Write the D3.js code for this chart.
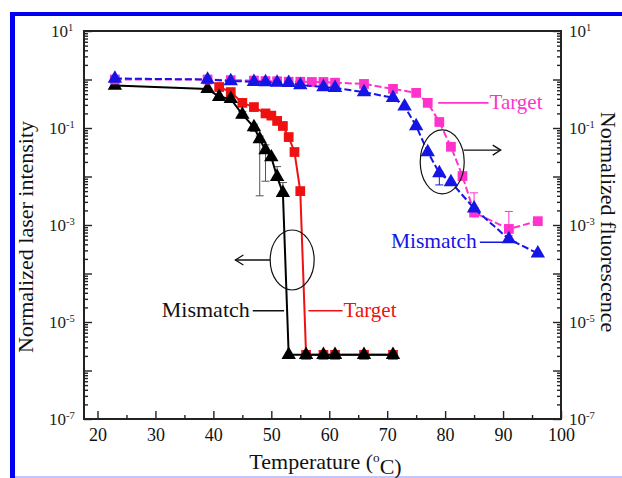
<!DOCTYPE html>
<html>
<head>
<meta charset="utf-8">
<script src="https://cdn.jsdelivr.net/npm/d3@7"></script>
<style>
  body { margin: 0; background: #fff; }
</style>
</head>
<body>
<div id="vis-holder"></div>
<script>
// ---- data ----
// laser intensity, mismatch (black triangles, left axis)
const laserMisTemp = [23, 39, 41, 43, 45, 47, 48, 49, 50, 51, 52, 53, 56, 59, 61, 66, 71];
const laserMisVal = [0.75, 0.64, 0.44, 0.40, 0.19, 0.105, 0.059, 0.035, 0.025, 0.0098, 0.0046,
  2.1e-6, 2.1e-6, 2.1e-6, 2.1e-6, 2.1e-6, 2.1e-6];
// laser intensity, target (red squares, left axis)
const laserTarTemp = [41, 43, 45, 47, 49, 50, 51, 52, 53, 54, 55, 56, 59, 61, 66, 71];
const laserTarVal = [0.70, 0.55, 0.33, 0.27, 0.20, 0.18, 0.14, 0.11, 0.065, 0.032, 0.005,
  2.1e-6, 2.1e-6, 2.1e-6, 2.1e-6, 2.1e-6];
// fluorescence, target (magenta squares, right axis)
const fluoTarTemp = [23, 39, 43, 47, 49, 51, 53, 55, 57, 59, 61, 66, 71, 75, 77, 79, 81, 83, 85, 91, 96];
const fluoTarVal = [1.0, 1.0, 0.97, 0.95, 0.93, 0.92, 0.9, 0.9, 0.89, 0.89, 0.86, 0.81, 0.64,
  0.53, 0.33, 0.133, 0.041, 0.0102, 0.0018, 0.00083, 0.0012];
// fluorescence, mismatch (blue triangles, right axis)
const fluoMisTemp = [23, 39, 43, 47, 49, 51, 53, 55, 59, 61, 66, 71, 73, 75, 77, 79, 81, 85, 91, 96];
const fluoMisVal = [1.05, 1.0, 0.93, 0.9, 0.88, 0.86, 0.85, 0.77, 0.70, 0.67, 0.55, 0.42, 0.28,
  0.11, 0.032, 0.0118, 0.0077, 0.0022, 0.00051, 0.00026];

// error bars (temperature, low, high)
const laserMisErrTemp = [45, 47, 48, 49, 51, 52];
const laserMisErrLo = [0.16, 0.085, 0.0040, 0.0080, 0.0085, 0.0040];
const laserMisErrHi = [0.22, 0.12, 0.068, 0.045, 0.016, 0.0075];
const fluoTarErrTemp = [23, 85, 91];
const fluoTarErrLo = [0.85, 0.0016, 0.0006];
const fluoTarErrHi = [1.1, 0.0046, 0.0019];
const fluoMisErrTemp = [23, 79];
const fluoMisErrLo = [0.88, 0.0067];
const fluoMisErrHi = [1.15, 0.0125];

// axis ticks
const xMajor = [20, 30, 40, 50, 60, 70, 80, 90, 100];
const xMinor = [25, 35, 45, 55, 65, 75, 85, 95];
const yLabelExp = [1, -1, -3, -5, -7];

// ---- layout ----
let margin = { top: 31, right: 61, bottom: 59, left: 84 },
    width = 622 - margin.left - margin.right,
    height = 478 - margin.top - margin.bottom;

const serif = "'Liberation Serif', 'Times New Roman', Times, serif";
const cMagenta = "#ff33cc", cBlue = "#1515e6", cRed = "#ee1111", cBlack = "#000";

let svg = d3.select("#vis-holder")
    .append("svg")
    .attr("width", 622)
    .attr("height", 478)
    .style("font-family", serif);

// blue frame of the figure panel
svg.append("rect").attr("x", 10).attr("y", 12).attr("width", 612).attr("height", 4).attr("fill", "#0000ee");
svg.append("rect").attr("x", 10).attr("y", 12).attr("width", 5).attr("height", 466).attr("fill", "#0000ee");
svg.append("rect").attr("x", 15).attr("y", 476).attr("width", 607).attr("height", 2).attr("fill", "#c4c4ff");

let g = svg.append("g")
    .attr("transform", "translate(" + margin.left + "," + margin.top + ")");

let x = d3.scaleLinear().domain([17.67, 100]).range([0, width]);
let y = d3.scaleLog().domain([1e-7, 10]).range([height, 0]);

// log tick values: every decade plus minor 2..9
let yMajor = d3.range(-7, 2).map(e => Math.pow(10, e));
let yMinor = [];
d3.range(-7, 1).forEach(e => {
    for (let m = 2; m <= 9; m++) yMinor.push(m * Math.pow(10, e));
});

// bottom axis, ticks inward
g.append("g").attr("transform", "translate(0," + height + ")")
    .call(d3.axisBottom(x).tickValues(xMajor).tickSize(-8).tickPadding(9).tickFormat(d3.format("d")))
    .call(a => a.selectAll("text").attr("font-size", 18).attr("fill", "#111")
        .style("font-family", serif));
g.append("g").attr("transform", "translate(0," + height + ")")
    .call(d3.axisBottom(x).tickValues(xMinor).tickSize(-4).tickFormat(""));

// left axis
g.append("g")
    .call(d3.axisLeft(y).tickValues(yMajor).tickSize(-8).tickFormat(""));
g.append("g")
    .call(d3.axisLeft(y).tickValues(yMinor).tickSize(-4).tickFormat(""));
// right axis
g.append("g").attr("transform", "translate(" + width + ",0)")
    .call(d3.axisRight(y).tickValues(yMajor).tickSize(-8).tickFormat(""));
g.append("g").attr("transform", "translate(" + width + ",0)")
    .call(d3.axisRight(y).tickValues(yMinor).tickSize(-4).tickFormat(""));

g.selectAll(".domain").remove();
g.selectAll(".tick line").attr("stroke", "#222").attr("stroke-width", 1.4);

// frame
g.append("rect")
    .attr("width", width).attr("height", height)
    .attr("fill", "none").attr("stroke", "#222").attr("stroke-width", 2);

// y tick labels with superscript exponents
function powLabel(sel, e) {
    sel.append("tspan").text("10");
    sel.append("tspan").attr("dy", "-0.55em").attr("font-size", "62%").text(e);
}
yLabelExp.forEach(e => {
    let yy = y(Math.pow(10, e));
    let tl = g.append("text").attr("x", -22).attr("y", yy + 6)
        .attr("text-anchor", "middle").attr("font-size", 17).attr("fill", "#222");
    powLabel(tl, e);
    let tr = g.append("text").attr("x", width + 8).attr("y", yy + 6)
        .attr("font-size", 17).attr("fill", "#222");
    powLabel(tr, e);
});

// axis titles
g.append("text")
    .attr("transform", "translate(" + (-51) + "," + (height / 2 + 12) + ") rotate(-90)")
    .attr("text-anchor", "middle").attr("font-size", 22).attr("fill", "#111")
    .text("Normalized laser intensity");
g.append("text")
    .attr("transform", "translate(" + (width + 40) + "," + (height / 2 - 3) + ") rotate(90)")
    .attr("text-anchor", "middle").attr("font-size", 22).attr("fill", "#111")
    .text("Normalized fluorescence");
let xt = g.append("text")
    .attr("x", width / 2 + 3).attr("y", height + 50)
    .attr("text-anchor", "middle").attr("font-size", 22).attr("fill", "#111");
xt.append("tspan").text("Temperature (");
xt.append("tspan").attr("dy", "-0.55em").attr("font-size", "60%").text("o");
xt.append("tspan").attr("dy", "0.55em").text("C)");

// ---- series ----
function series(temps, vals, color, dash, symbol, size) {
    let pts = temps.map((t, i) => [t, vals[i]]);
    g.append("path")
        .datum(pts)
        .attr("fill", "none")
        .attr("stroke", color)
        .attr("stroke-width", 2)
        .attr("stroke-dasharray", dash)
        .attr("d", d3.line().x(d => x(d[0])).y(d => y(d[1])));
    g.selectAll(null)
        .data(pts)
        .enter()
        .append("path")
        .attr("transform", d => "translate(" + x(d[0]) + "," + y(d[1]) + ")")
        .attr("d", d3.symbol().type(symbol).size(size))
        .attr("fill", color);
}

function errorBars(temps, lo, hi, color) {
    let eb = g.append("g").attr("stroke", color).attr("stroke-width", 1);
    temps.forEach((t, i) => {
        eb.append("line").attr("x1", x(t)).attr("x2", x(t)).attr("y1", y(lo[i])).attr("y2", y(hi[i]));
        eb.append("line").attr("x1", x(t) - 4).attr("x2", x(t) + 4).attr("y1", y(lo[i])).attr("y2", y(lo[i]));
        eb.append("line").attr("x1", x(t) - 4).attr("x2", x(t) + 4).attr("y1", y(hi[i])).attr("y2", y(hi[i]));
    });
}

errorBars(laserMisErrTemp, laserMisErrLo, laserMisErrHi, "#555");
series(laserTarTemp, laserTarVal, cRed, null, d3.symbolSquare, 95);
series(laserMisTemp, laserMisVal, cBlack, null, d3.symbolTriangle, 90);
errorBars(fluoTarErrTemp, fluoTarErrLo, fluoTarErrHi, cMagenta);
errorBars(fluoMisErrTemp, fluoMisErrLo, fluoMisErrHi, cBlue);
series(fluoTarTemp, fluoTarVal, cMagenta, "7,3", d3.symbolSquare, 95);
series(fluoMisTemp, fluoMisVal, cBlue, "7,3", d3.symbolTriangle, 90);

// ---- annotations (positioned in data units) ----
function arrow(t0, t1, v) {
    let a = g.append("g").attr("stroke", "#111").attr("stroke-width", 1.3).attr("fill", "none");
    a.append("line").attr("x1", x(t0)).attr("x2", x(t1)).attr("y1", y(v)).attr("y2", y(v));
    let dir = t1 > t0 ? -1 : 1;
    a.append("polyline").attr("points", [
        [x(t1) + dir * 8, y(v) - 5], [x(t1), y(v)], [x(t1) + dir * 8, y(v) + 5]
    ].map(p => p.join(",")).join(" "));
}
function ellipse(t, v, rx, ry) {
    g.append("ellipse").attr("cx", x(t)).attr("cy", y(v)).attr("rx", rx).attr("ry", ry)
        .attr("fill", "none").attr("stroke", "#111").attr("stroke-width", 1.2);
}
function label(t0, t1, v, txt, color, textFirst, size) {
    g.append("line").attr("x1", x(t0)).attr("x2", x(t1)).attr("y1", y(v)).attr("y2", y(v))
        .attr("stroke", color).attr("stroke-width", 1.6);
    g.append("text")
        .attr("x", textFirst ? x(t0) - 3 : x(t1) + 1)
        .attr("y", y(v) + 6)
        .attr("text-anchor", textFirst ? "end" : "start")
        .attr("font-size", size).attr("fill", color)
        .text(txt);
}

ellipse(79.5, 0.02, 22, 32);
arrow(83.2, 89.6, 0.035);
ellipse(53.6, 1.9e-4, 22, 30);
arrow(49.8, 43.8, 1.9e-4);

label(78.8, 87.5, 0.33, "Target", cMagenta, false, 21);
label(86.0, 92.4, 4.4e-4, "Mismatch", cBlue, true, 21.5);
label(46.8, 52.2, 1.7e-5, "Mismatch", "#111", true, 22);
label(56.4, 62.3, 1.7e-5, "Target", cRed, false, 21);
</script>
</body>
</html>
